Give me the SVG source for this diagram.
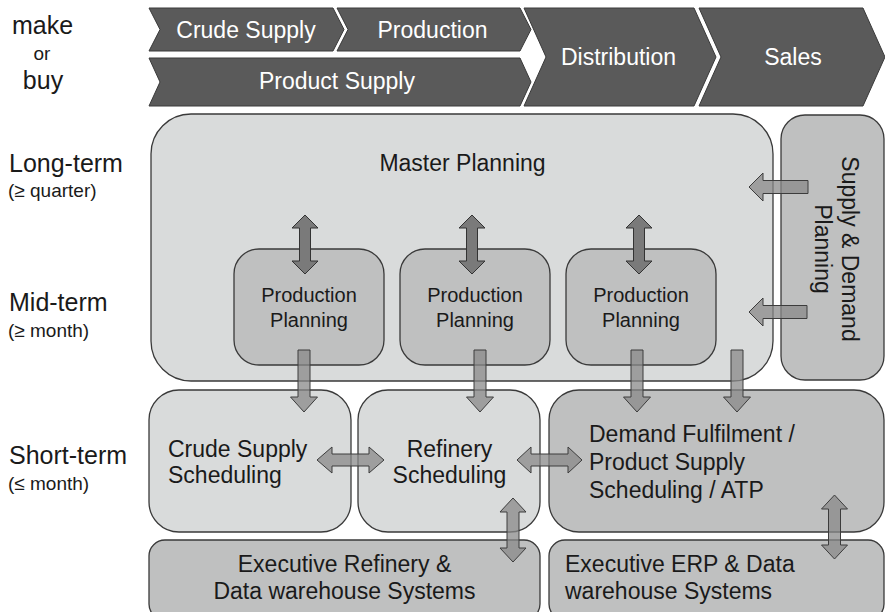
<svg xmlns="http://www.w3.org/2000/svg" width="885" height="612" viewBox="0 0 885 612">
<style>
text{font-family:"Liberation Sans",Arial,sans-serif;fill:#1a1a1a}
.chev{fill:#5a5a5a;stroke:#3a3a3a;stroke-width:1}
.ct{fill:#ffffff;font-size:23px;text-anchor:middle}
.lbl{font-size:25px}
.sub{font-size:19px}
.bx{stroke:#3a3a3a;stroke-width:1.3}
.light{fill:#d9dbdb}
.mid{fill:#bfc0c0}
.t23{font-size:23px}
.t20{font-size:20px}
.mc{text-anchor:middle}
.dv{fill:#7a7a7a;stroke:#333;stroke-width:1}
.ar{fill:#8a8a8a;fill-opacity:.75;stroke:#3c3c3c;stroke-width:1}
</style>
<rect width="885" height="612" fill="#ffffff"/>
<g id="left-labels">
<text class="lbl" x="12" y="34">make</text>
<text class="sub" x="42" y="60" text-anchor="middle">or</text>
<text class="lbl" x="43" y="89" text-anchor="middle">buy</text>
<text class="lbl" x="9" y="172">Long-term</text>
<text class="sub" x="8" y="197">(≥ quarter)</text>
<text class="lbl" x="9" y="311">Mid-term</text>
<text class="sub" x="8" y="337">(≥ month)</text>
<text class="lbl" x="9" y="464">Short-term</text>
<text class="sub" x="8" y="490">(≤ month)</text>
</g>
<g id="chevrons">
<g id="crude-supply"><polygon class="chev" points="149,8 333,8 344,29.5 333,51 149,51 160,29.5"/><text class="ct" x="246" y="38">Crude Supply</text></g>
<g id="production"><polygon class="chev" points="337,8 520,8 531,29.5 520,51 337,51 348,29.5"/><text class="ct" x="432.5" y="38">Production</text></g>
<g id="product-supply"><polygon class="chev" points="149,58 520,58 531,82 520,106 149,106 160,82"/><text class="ct" x="337" y="89">Product Supply</text></g>
<g id="distribution"><polygon class="chev" points="524,8 694,8 716,57 694,106 524,106 546,57"/><text class="ct" x="618.5" y="65">Distribution</text></g>
<g id="sales"><polygon class="chev" points="699,8 863,8 885,57 863,106 699,106 721,57"/><text class="ct" x="793" y="65">Sales</text></g>
</g>
<g id="master-planning"><rect class="bx light" x="151" y="114" width="622" height="267" rx="40" ry="40" stroke="#555"/><text class="t23 mc" x="462.5" y="171">Master Planning</text></g>
<g id="supply-demand-planning"><rect class="bx mid" x="781" y="115" width="103" height="265" rx="24" ry="24"/>
<text class="t23 mc" transform="translate(842,249) rotate(90)">Supply &amp; Demand</text>
<text class="t23 mc" transform="translate(815,249) rotate(90)">Planning</text></g>
<g id="production-planning-1"><rect class="bx mid" x="234" y="249" width="150" height="116" rx="25" ry="25"/><text class="t20 mc" x="309" y="302">Production</text><text class="t20 mc" x="309" y="327">Planning</text></g>
<g id="production-planning-2"><rect class="bx mid" x="400" y="249" width="150" height="116" rx="25" ry="25"/><text class="t20 mc" x="475" y="302">Production</text><text class="t20 mc" x="475" y="327">Planning</text></g>
<g id="production-planning-3"><rect class="bx mid" x="566" y="249" width="150" height="116" rx="25" ry="25"/><text class="t20 mc" x="641" y="302">Production</text><text class="t20 mc" x="641" y="327">Planning</text></g>
<g id="crude-supply-scheduling"><rect class="bx light" x="149" y="390" width="202" height="142" rx="30" ry="30"/><text class="t23" x="168" y="457">Crude Supply</text><text class="t23" x="168" y="483">Scheduling</text></g>
<g id="refinery-scheduling"><rect class="bx light" x="358" y="390" width="182" height="142" rx="30" ry="30"/><text class="t23 mc" x="449.5" y="457">Refinery</text><text class="t23 mc" x="449.5" y="483">Scheduling</text></g>
<g id="demand-fulfilment"><rect class="bx mid" x="549" y="390" width="335" height="142" rx="30" ry="30"/><text class="t23" x="589" y="442">Demand Fulfilment /</text><text class="t23" x="589" y="470">Product Supply</text><text class="t23" x="589" y="498">Scheduling / ATP</text></g>
<g id="executive-refinery"><rect class="bx mid" x="149" y="540" width="391" height="80" rx="16" ry="16"/><text class="t23 mc" x="344.5" y="572">Executive Refinery &amp;</text><text class="t23 mc" x="344.5" y="599">Data warehouse Systems</text></g>
<g id="executive-erp"><rect class="bx mid" x="549" y="540" width="335" height="80" rx="16" ry="16"/><text class="t23" x="565" y="572">Executive ERP &amp; Data</text><text class="t23" x="565" y="599">warehouse Systems</text></g>
<g id="connectors">
<polygon class="dv" points="305,215 318,228 310.5,228 310.5,261 318,261 305,274 292,261 299.5,261 299.5,228 292,228"/>
<polygon class="dv" points="472,215 485,228 477.5,228 477.5,261 485,261 472,274 459,261 466.5,261 466.5,228 459,228"/>
<polygon class="dv" points="639,215 652,228 644.5,228 644.5,261 652,261 639,274 626,261 633.5,261 633.5,228 626,228"/>
<polygon class="ar" points="749,187 763,173 763,180.5 808,180.5 808,193.5 763,193.5 763,201"/>
<polygon class="ar" points="749,312 763,298 763,305.5 807,305.5 807,318.5 763,318.5 763,326"/>
<polygon class="ar" points="298,350 310,350 310,397 317.5,397 304,412 290.5,397 298,397"/>
<polygon class="ar" points="474,350 486,350 486,397 493.5,397 480,412 466.5,397 474,397"/>
<polygon class="ar" points="631,350 643,350 643,397 650.5,397 637,412 623.5,397 631,397"/>
<polygon class="ar" points="731,350 743,350 743,397 750.5,397 737,412 723.5,397 731,397"/>
<polygon class="ar" points="317,460 332,447 332,454 369,454 369,447 384,460 369,473 369,466 332,466 332,473"/>
<polygon class="ar" points="517,460 531,447 531,454 568,454 568,447 582,460 568,473 568,466 531,466 531,473"/>
<polygon class="ar" points="513,498 526,512 519,512 519,548 526,548 513,562 500,548 507,548 507,512 500,512"/>
<polygon class="ar" points="834.5,495 847.5,509 840.5,509 840.5,545 847.5,545 834.5,559 821.5,545 828.5,545 828.5,509 821.5,509"/>
</g>
</svg>
